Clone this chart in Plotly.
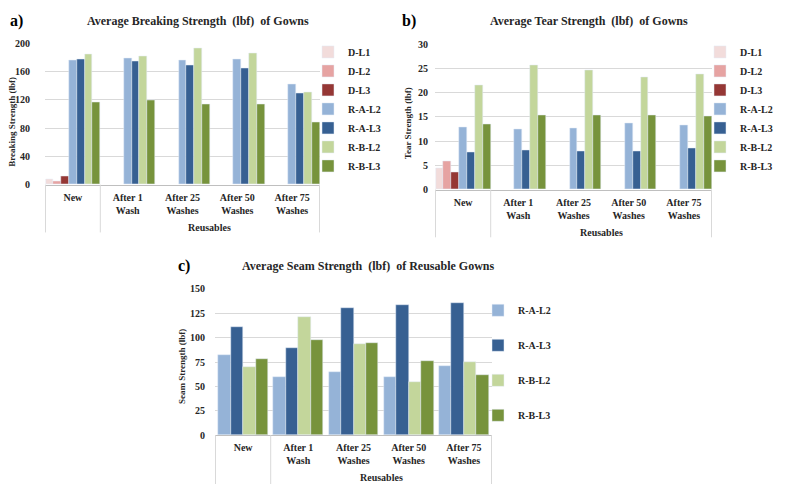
import plotly.graph_objects as go

# category labels (x axis) and series names
categories = ["New", "After 1<br>Wash", "After 25<br>Washes", "After 50<br>Washes", "After 75<br>Washes"]
series_ab = ["D-L1", "D-L2", "D-L3", "R-A-L2", "R-A-L3", "R-B-L2", "R-B-L3"]
series_c = ["R-A-L2", "R-A-L3", "R-B-L2", "R-B-L3"]

colors = {
    "D-L1": "#f2dcdb",
    "D-L2": "#e6a3a2",
    "D-L3": "#953735",
    "R-A-L2": "#95b3d7",
    "R-A-L3": "#376092",
    "R-B-L2": "#c3d69b",
    "R-B-L3": "#77933c",
}

# a) breaking strength (lbf)
breaking = {
    "D-L1": [8, None, None, None, None],
    "D-L2": [5.5, None, None, None, None],
    "D-L3": [12, None, None, None, None],
    "R-A-L2": [176, 179, 176, 177, 142],
    "R-A-L3": [177, 174, 169, 165, 129],
    "R-B-L2": [184, 181, 193, 186, 131],
    "R-B-L3": [116, 119, 114, 114, 88],
}

# b) tear strength (lbf)
tear = {
    "D-L1": [4.5, None, None, None, None],
    "D-L2": [5.8, None, None, None, None],
    "D-L3": [3.6, None, None, None, None],
    "R-A-L2": [12.8, 12.5, 12.6, 13.7, 13.3],
    "R-A-L3": [7.7, 8.2, 8.0, 8.0, 8.6],
    "R-B-L2": [21.5, 25.7, 24.6, 23.2, 23.8],
    "R-B-L3": [13.5, 15.4, 15.4, 15.3, 15.2],
}

# c) seam strength (lbf), reusable gowns only
seam = {
    "R-A-L2": [82, 59.5, 65, 60, 71],
    "R-A-L3": [111, 89, 131, 133.5, 136],
    "R-B-L2": [70.5, 121, 94, 55, 75],
    "R-B-L3": [78, 98, 95, 76, 62],
}

SERIF = "Liberation Serif"
W, H = 775, 482   # page body has an 8px margin, figure sits at (8, 8)
OFF = 8

fig = go.Figure()

for name in series_ab:
    fig.add_trace(go.Bar(x=categories, y=breaking[name], name=name, marker_color=colors[name],
                         xaxis="x", yaxis="y", legend="legend"))
for name in series_ab:
    fig.add_trace(go.Bar(x=categories, y=tear[name], name=name, marker_color=colors[name],
                         xaxis="x2", yaxis="y2", legend="legend2"))
for i, name in enumerate(series_c):
    fig.add_trace(go.Bar(x=categories, y=seam[name], name=name, marker_color=colors[name],
                         width=0.225, offset=-0.45 + i * 0.225, legendgroup=name,
                         xaxis="x3", yaxis="y3", legend="legend3"))


# screen pixel -> paper fraction
def px_x(p):
    return (p - OFF) / W


def px_y(p):
    return 1 - (p - OFF) / H


font = dict(family=SERIF, size=10, color="#262626", weight="bold")
xa = dict(type="category", showgrid=False, showline=True, linecolor="#bfbfbf", linewidth=1,
          ticks="", tickfont=font, fixedrange=True, zeroline=False, ticklabelstandoff=3)
ya = dict(showgrid=True, gridcolor="#d9d9d9", showline=False, zeroline=False, ticks="",
          tickfont=font)

fig.update_layout(
    width=W, height=H,
    margin=dict(l=0, r=0, t=0, b=0),
    paper_bgcolor="white", plot_bgcolor="white",
    barmode="group", bargap=0, bargroupgap=0,
    font=dict(family=SERIF, color="#262626"),
    xaxis=dict(xa, domain=[px_x(45), px_x(320)], anchor="y"),
    yaxis=dict(ya, domain=[px_y(183), px_y(38)], range=[0, 200], dtick=40, anchor="x",
               ticklabelstandoff=14),
    xaxis2=dict(xa, domain=[px_x(435), px_x(712)], anchor="y2"),
    yaxis2=dict(ya, domain=[px_y(188), px_y(39)], range=[0, 30], dtick=5, anchor="x2",
                ticklabelstandoff=6),
    xaxis3=dict(xa, domain=[px_x(215), px_x(492)], anchor="y3"),
    yaxis3=dict(ya, domain=[px_y(440), px_y(290)], range=[0, 150], dtick=25, anchor="x3",
                ticklabelstandoff=9),
    legend=dict(x=px_x(308), y=px_y(32), xanchor="left", yanchor="top", font=font,
                bgcolor="rgba(0,0,0,0)"),
    legend2=dict(x=px_x(700), y=px_y(32), xanchor="left", yanchor="top", font=font,
                 bgcolor="rgba(0,0,0,0)"),
    legend3=dict(x=px_x(478), y=px_y(297), xanchor="left", yanchor="top", font=font,
                 tracegroupgap=16, bgcolor="rgba(0,0,0,0)"),
)

title_font = dict(family=SERIF, size=12, color="#262626", weight="bold")
label_font = dict(family=SERIF, size=16, color="#000000", weight="bold")
ann = [
    ("a)", 8, 15, label_font, "left"),
    ("Average Breaking Strength  (lbf)  of Gowns", 198, 15, title_font, "center"),
    ("b)", 400, 15, label_font, "left"),
    ("Average Tear Strength  (lbf)  of Gowns", 589, 15, title_font, "center"),
    ("c)", 176, 266, label_font, "left"),
    ("Average Seam Strength  (lbf)  of Reusable Gowns", 368, 266, title_font, "center"),
]
for text, x, y, f, anchor in ann:
    fig.add_annotation(text=text, x=px_x(x), y=px_y(y), xref="paper", yref="paper",
                       xanchor=anchor, yanchor="middle", showarrow=False, font=f)

axis_title_font = dict(family=SERIF, size=9, color="#262626", weight="bold")
for text, x, y in [("Breaking Strength (lbf)", 12.5, 119), ("Tear Strength (lbf)", 408, 120),
                   ("Seam Strength (lbf)", 182, 370)]:
    fig.add_annotation(text=text, x=px_x(x), y=px_y(y), xref="paper", yref="paper",
                       xanchor="center", yanchor="middle",
                       textangle=-90, showarrow=False, font=axis_title_font)

# group label and dividers under each category axis
for xr, top, bottom, label_y in [("x", 183, 232, 227), ("x2", 188, 237, 232), ("x3", 440, 490, 483)]:
    fig.add_annotation(text="Reusables", x=2.5, y=px_y(label_y), xref=xr, yref="paper",
                       xanchor="center", yanchor="middle", showarrow=False, font=font)
    for xv in [-0.5, 0.5, 4.5]:
        fig.add_shape(type="line", xref=xr, yref="paper", x0=xv, x1=xv,
                      y0=px_y(top), y1=px_y(bottom), line=dict(color="#d9d9d9", width=1))

fig.write_html("out.html")
